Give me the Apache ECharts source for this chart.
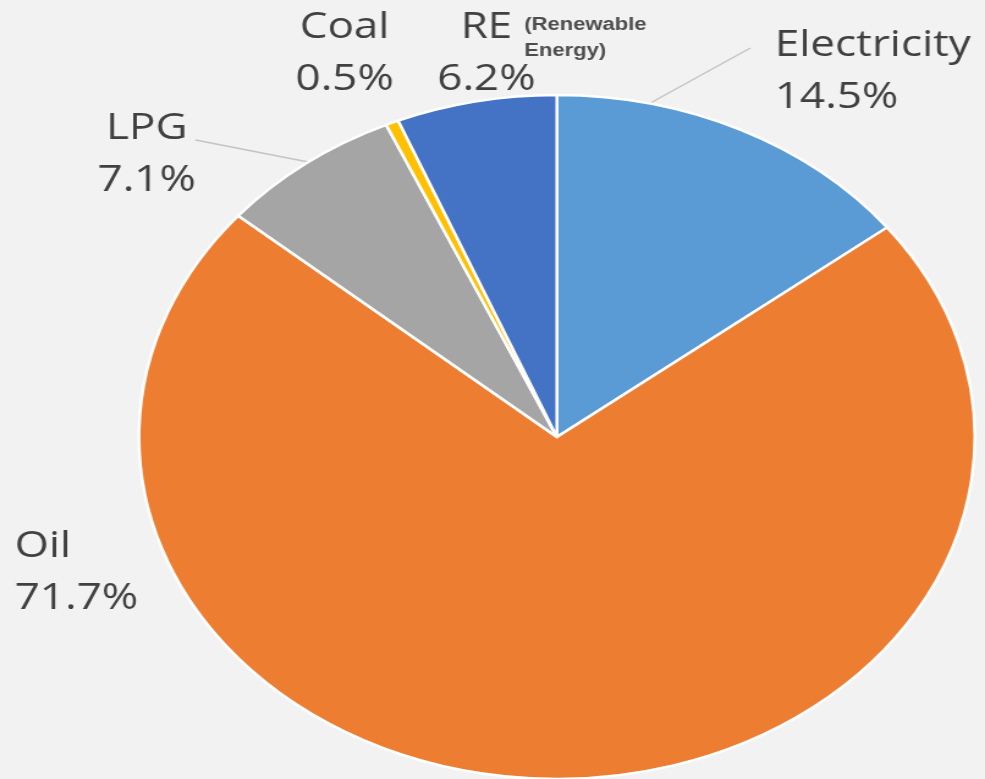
<!DOCTYPE html>
<html>
<head>
<meta charset="utf-8">
<script src="https://cdn.jsdelivr.net/npm/echarts@6/dist/echarts.min.js"></script>
<style>
  html, body { margin: 0; padding: 0; background: #f2f2f2; overflow: hidden; }
  #wrap { width: 985px; height: 779px; overflow: hidden; position: relative; }
  #chart { width: 806px; height: 779px; transform: scaleX(1.2221); transform-origin: 0 0; }
</style>
</head>
<body>
<div id="wrap"><div id="chart"></div></div>
<script>
// Data
const categories = ['Electricity', 'Oil', 'LPG', 'Coal', 'RE'];
const shares = [14.5, 71.7, 7.1, 0.5, 6.2];
const colors = ['#5B9BD5', '#ED7D31', '#A5A5A5', '#FFC000', '#4472C4'];
const reNote = '(Renewable\nEnergy)';

// Layout (unstretched chart coordinates)
const CX = 455.7, CY = 437, R = 342;
const labelPos = [
  { x: 634, y: 20, align: 'left' },
  { x: 12, y: 521, align: 'left' },
  { x: 120, y: 103, align: 'center' },
  { x: 282, y: 2, align: 'center' },
  { x: 398, y: 2, align: 'center' }
];
// guide line: angle (deg clockwise from top) where it leaves the pie, and its end point
const guides = [
  { angle: 12.8, end: [614, 48] },
  null,
  { angle: 323.5, end: [160, 140] },
  null,
  null
];

function guidePoints(g) {
  const a = g.angle * Math.PI / 180;
  const p0 = [CX + R * Math.sin(a), CY - R * Math.cos(a)];
  const mid = [(p0[0] + g.end[0]) / 2, (p0[1] + g.end[1]) / 2];
  return [p0, mid, g.end];
}

const chart = echarts.init(document.getElementById('chart'));
chart.setOption({
  backgroundColor: '#f2f2f2',
  animation: false,
  graphic: [{
    type: 'text',
    left: 429,
    top: 12,
    style: {
      text: reNote,
      fontSize: 18,
      fontWeight: 'bold',
      fontFamily: 'Liberation Sans, Arial, sans-serif',
      lineHeight: 26,
      fill: '#4d4d4d'
    }
  }],
  series: [{
    type: 'pie',
    center: [CX, CY],
    radius: R,
    startAngle: 90,
    clockwise: true,
    itemStyle: { borderColor: '#ffffff', borderWidth: 2.5 },
    label: {
      show: true,
      formatter: '{b}\n{c}%',
      fontFamily: '"Open Sans", "Noto Sans", sans-serif',
      fontSize: 36,
      lineHeight: 52,
      color: '#404040',
      overflow: 'none'
    },
    labelLine: {
      show: true,
      lineStyle: { color: '#c4c4c4', width: 1.5 }
    },
    labelLayout: function (p) {
      const lp = labelPos[p.dataIndex];
      const res = { x: lp.x, y: lp.y, align: lp.align, verticalAlign: 'top' };
      const g = guides[p.dataIndex];
      if (g) res.labelLinePoints = guidePoints(g);
      return res;
    },
    data: categories.map((c, i) => ({
      name: c,
      value: shares[i],
      itemStyle: { color: colors[i] },
      labelLine: { show: !!guides[i] }
    }))
  }]
});
</script>
</body>
</html>
